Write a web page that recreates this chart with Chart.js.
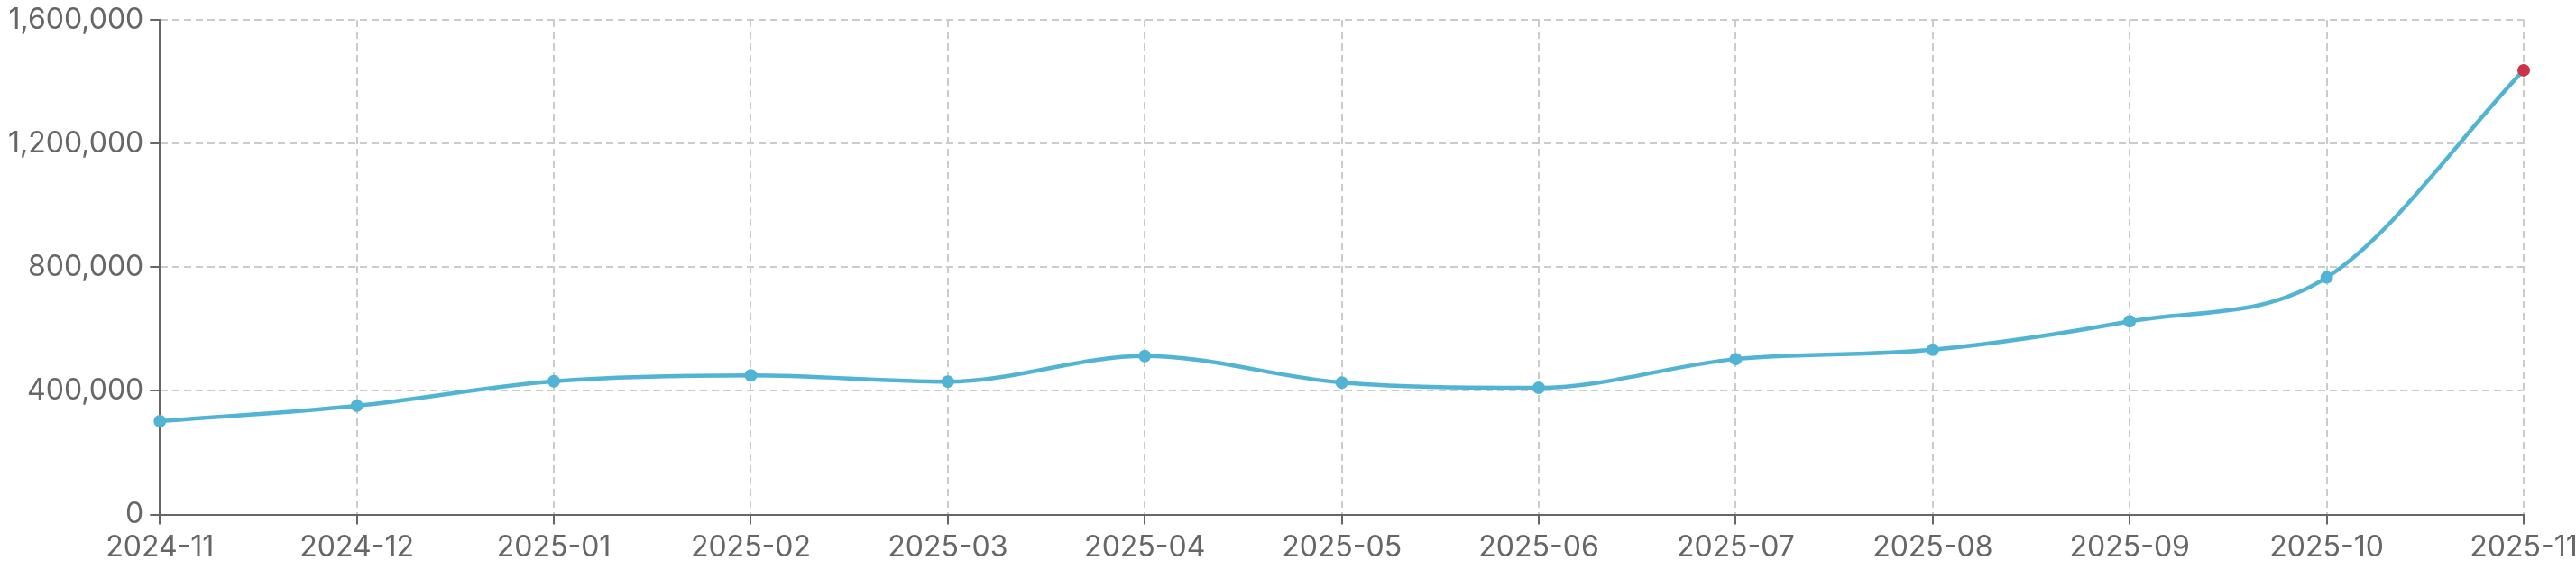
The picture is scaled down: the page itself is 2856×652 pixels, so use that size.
<!DOCTYPE html>
<html>
<head>
<meta charset="utf-8">
<script src="https://cdn.jsdelivr.net/npm/chart.js@4"></script>
<style>
    html, body { margin: 0; padding: 0; background: #fff; }
    #wrap { width: 2856px; height: 652px; }
</style>
</head>
<body>
<div id="wrap"><canvas id="chart" width="2856" height="652"></canvas></div>
<script>
const months = ['2024-11', '2024-12', '2025-01', '2025-02', '2025-03', '2025-04', '2025-05',
    '2025-06', '2025-07', '2025-08', '2025-09', '2025-10', '2025-11'];
const values = [302000, 352000, 431000, 450000, 430000, 513000, 427000,
    410000, 503000, 533000, 625000, 767000, 1437000];
const yTicks = [0, 400000, 800000, 1200000, 1600000];

const lineColor = '#52b4d4';
const lastColor = '#cc3449';
const textColor = '#666';

const ctx = document.querySelector('#chart').getContext('2d');

function pointColor(c) {
    return c.dataIndex === values.length - 1 ? lastColor : lineColor;
}

const chart = new Chart(ctx, {
    type: 'line',
    data: {
        labels: months,
        datasets: [{
            data: values,
            borderColor: lineColor,
            borderWidth: 4.5,
            cubicInterpolationMode: 'monotone',
            pointRadius: 6,
            pointBorderWidth: 2,
            pointBackgroundColor: pointColor,
            pointBorderColor: pointColor,
            fill: false
        }]
    },
    options: {
        responsive: false,
        animation: false,
        layout: {
            padding: { top: 22, right: 58, bottom: 18, left: 2 }
        },
        plugins: {
            legend: { display: false },
            tooltip: { enabled: false }
        },
        scales: {
            x: {
                afterFit: (scale) => {
                    // let layout padding decide the edges
                    scale.paddingLeft = 0;
                    scale.paddingRight = 0;
                },
                grid: {
                    color: '#cbcbcb',
                    lineWidth: 2,
                    tickColor: textColor,
                    tickWidth: 2,
                    tickLength: 11
                },
                border: { color: textColor, width: 2, dash: [8, 5] },
                ticks: {
                    color: textColor,
                    font: { family: 'Inter', size: 32 },
                    padding: 7,
                    maxRotation: 0,
                    autoSkip: false
                }
            },
            y: {
                min: yTicks[0],
                max: yTicks[yTicks.length - 1],
                afterBuildTicks: (axis) => {
                    axis.ticks = yTicks.map(v => ({ value: v }));
                },
                afterFit: (scale) => {
                    scale.paddingTop = 0;
                    scale.paddingBottom = 0;
                },
                grid: {
                    color: '#cbcbcb',
                    lineWidth: 2,
                    tickColor: textColor,
                    tickWidth: 2,
                    tickLength: 11
                },
                border: { color: textColor, width: 2, dash: [8, 5] },
                ticks: {
                    color: textColor,
                    font: { family: 'Inter', size: 32 },
                    padding: 7,
                    callback: (v) => Number(v).toLocaleString('en-US')
                }
            }
        }
    }
});
</script>
</body>
</html>
